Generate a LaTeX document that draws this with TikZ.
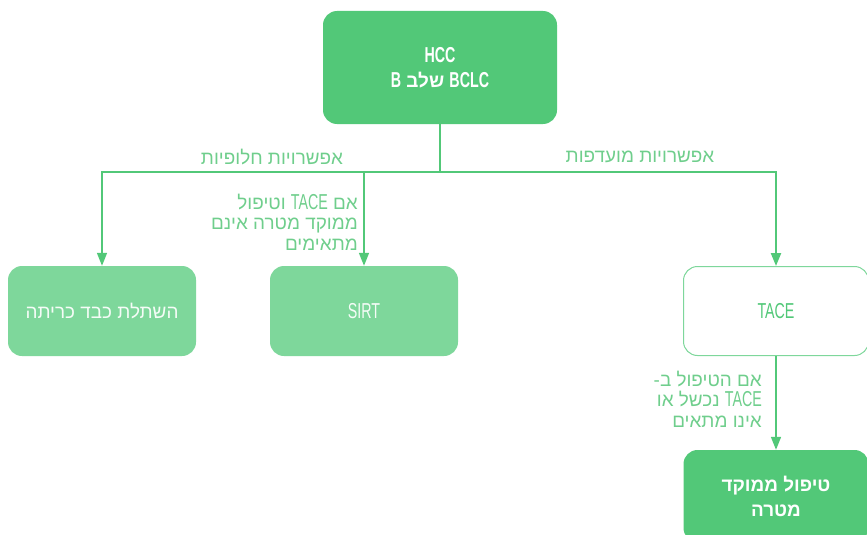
\documentclass[tikz,border=0pt]{standalone}
\usepackage{fontspec}
\usetikzlibrary{arrows.meta}
\TeXXeTstate=1
\newfontfamily\hebfont[Script=Hebrew,Scale=1.05]{Liberation Sans}
\newfontfamily\latfont[FakeStretch=0.66,Scale=1.2]{Liberation Sans}
\newcommand{\ltn}[1]{{\latfont\beginL #1\endL}}
\definecolor{dgreen}{HTML}{52C878}
\definecolor{lgreen}{HTML}{7ED79B}
\definecolor{tgreen}{HTML}{6FCE8C}
\tikzstyle{mainbox}=[rectangle,rounded corners=14pt,fill=dgreen,text=white,align=center,font=\hebfont\bfseries\fontsize{18}{25}\selectfont,minimum width=234pt,minimum height=113pt]
\tikzstyle{altbox}=[rectangle,rounded corners=14pt,fill=lgreen,text=white!92!lgreen,font=\hebfont\fontsize{18}{22}\selectfont,minimum width=188pt,minimum height=90pt]
\tikzstyle{tacebox}=[rectangle,rounded corners=14pt,draw=lgreen,line width=1pt,fill=white,text=dgreen,font=\hebfont\fontsize{18}{22}\selectfont,minimum width=185pt,minimum height=89pt]
\tikzstyle{lbl}=[text=tgreen,align=right,inner sep=0pt,font=\hebfont\fontsize{18}{20.5}\selectfont]
\tikzstyle{trunk}=[draw=dgreen,line width=1.6pt]
\tikzstyle{flow}=[trunk,-{Triangle[length=13pt,width=10pt]}]

\begin{document}
\begin{tikzpicture}[x=1pt,y=1pt]
\useasboundingbox (0,0) rectangle (867,-535);
\node[mainbox] (HCC) at (440,-67.5) {\ltn{HCC}\\\beginR\ltn{BCLC} שלב \ltn{B}\endR};
\node[altbox] (LT) at (102,-311) {\beginR השתלת כבד כריתה\endR};
\node[altbox] (SIRT) at (364,-311) {\ltn{SIRT}};
\node[tacebox] (TACE) at (776,-311) {\ltn{TACE}};
\node[mainbox,minimum width=185pt,minimum height=92pt] (FT) at (776,-496) {\beginR טיפול ממוקד\endR\\\beginR מטרה\endR};
\node[lbl] (alt) at (272,-157) {\beginR אפשרויות חלופיות\endR};
\node[lbl] (pref) at (640,-157) {\beginR אפשרויות מועדפות\endR};
\node[lbl,anchor=east] (sirtif) at (358,-222) {\beginR אם \ltn{TACE} וטיפול\endR\\\beginR ממוקד מטרה אינם\endR\\\beginR מתאימים\endR};
\node[lbl,anchor=east] (taceif) at (762,-399) {\beginR אם הטיפול ב-\endR\\\beginR\ltn{TACE} נכשל או\endR\\\beginR אינו מתאים\endR};
\coordinate (J) at (440,-172);
\draw[trunk] (HCC) -- (J);
\draw[flow] (J) -| (LT);
\draw[flow] (J) -| (SIRT);
\draw[flow,line width=2.2pt] (J) -| (TACE);
\draw[flow] (TACE) -- (FT);
\end{tikzpicture}
\end{document}
